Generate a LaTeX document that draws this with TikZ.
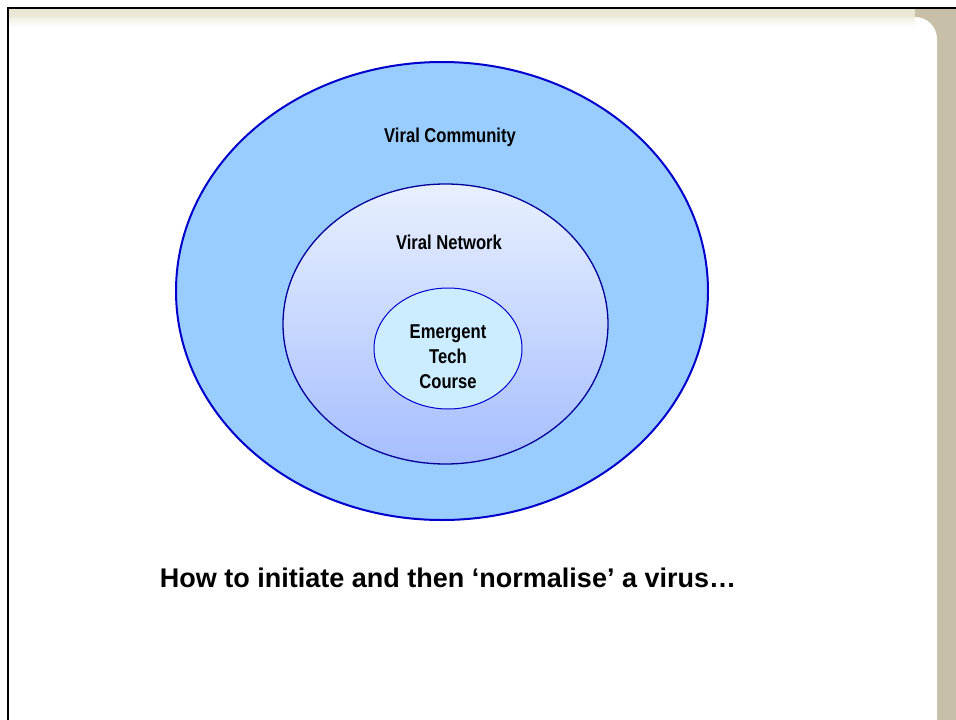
\documentclass[tikz,border=0pt]{standalone}
\usepackage{fontspec}
\setmainfont{Liberation Sans}
\newfontfamily\narrowsans[FakeStretch=0.83]{Liberation Sans}
\usepackage{xcolor}
\usetikzlibrary{positioning}
\definecolor{ringblue}{RGB}{0,0,204}
\definecolor{ringnavy}{RGB}{0,0,150}
\definecolor{outerfill}{RGB}{153,204,255}
\definecolor{midtop}{RGB}{232,240,255}
\definecolor{midbot}{RGB}{166,190,255}
\definecolor{innerfill}{RGB}{204,236,255}
\definecolor{slidetan}{RGB}{200,191,168}
\definecolor{slidecream}{RGB}{234,232,212}
\tikzset{
  ringlabel/.style={font=\narrowsans\bfseries\fontsize{20}{25}\selectfont, align=center, inner sep=0pt},
  caption/.style={font=\bfseries\fontsize{27}{30}\selectfont, inner sep=0pt}
}

\begin{document}
\begin{tikzpicture}[x=1pt,y=1pt,yscale=-1,xscale=1]
\useasboundingbox (0,0) rectangle (956,720);

%Shape: slide frame
\fill[white] (0,0) rectangle (956,720);
\fill[slidetan] (8,8) rectangle (956,720);
\fill[white] (9,17) -- (915,17) arc (-90:0:22) -- (937,720) -- (9,720) -- cycle;
\fill[slidecream] (9,9) rectangle (915,17);
\shade[top color=slidecream!70, bottom color=white] (9,17) rectangle (915,27);
\draw[line width=2.5] (8,720) -- (8,8) -- (956,8);

%Shape: Ellipse outer
\draw[fill=outerfill, draw=ringblue, line width=2] (442,291) ellipse [x radius=266, y radius=229];
%Shape: Ellipse middle
\shade[top color=midtop, bottom color=midbot] (445.5,324) ellipse [x radius=162.5, y radius=140];
\draw[draw=ringnavy, line width=1.3] (445.5,324) ellipse [x radius=162.5, y radius=140];
%Shape: Ellipse inner
\draw[fill=innerfill, draw=ringblue, line width=1] (448,348.5) ellipse [x radius=74, y radius=60.5];

% labels
\node[ringlabel] (community) at (450,137) {Viral Community};
\node[ringlabel] (network) at (449,242) {Viral Network};
\node[ringlabel] (course) at (448,357) {Emergent\\Tech\\Course};
\node[caption] (virus) at (448,578) {How to initiate and then ‘normalise’ a virus…};

\end{tikzpicture}
\end{document}
